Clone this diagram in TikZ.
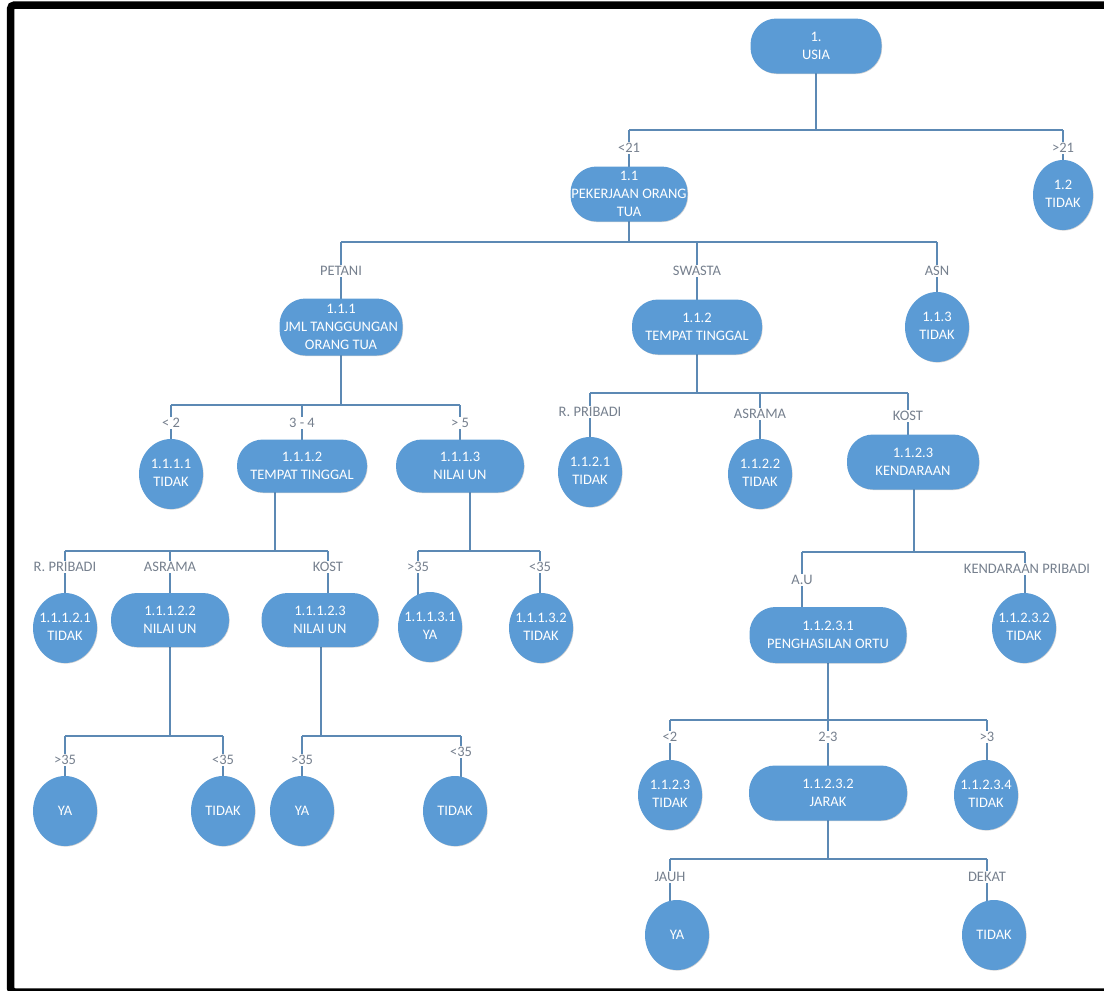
\documentclass[tikz,border=0pt]{standalone}
\usepackage{fontspec}
\setmainfont{Carlito}
\usetikzlibrary{shapes.geometric,shadows}
\pgfdeclarelayer{background}
\pgfsetlayers{background,main}
\definecolor{nodefill}{RGB}{91,155,213}
\definecolor{connc}{RGB}{92,137,180}
\definecolor{lblc}{RGB}{118,128,142}
\newcommand{\twol}[2]{\makebox[0pt]{\begin{tabular}{@{}c@{}}#1\\#2\end{tabular}}}
\tikzset{
  base/.style={fill=nodefill, text=white, inner sep=0pt,
    drop shadow={shadow xshift=0.6pt, shadow yshift=-0.6pt, opacity=0.18, fill=black}},
  stad/.style={base, rectangle, rounded corners=26pt, align=center},
  circ/.style={base, ellipse, minimum width=64pt, minimum height=70pt},
  conn/.style={draw=connc, line width=1.6pt},
  lbl/.style={fill=white, text=lblc, inner sep=1.5pt},
}
\begin{document}
\begin{tikzpicture}[x=1pt, y=-1pt, font=\fontsize{14.5}{18}\selectfont]
\useasboundingbox (0,0) rectangle (1104,991);
\draw[line width=7.5pt, rounded corners=4pt] (10.5,5) rectangle (1130,992);

% ---------- nodes ----------
\node[stad, minimum width=131pt, minimum height=55pt] (n1) at (816,46) {1.\\USIA};
\node[stad, minimum width=117pt, minimum height=55pt] (n11) at (629,194) {1.1\\PEKERJAAN ORANG\\TUA};
\node[circ, minimum width=60pt] (n12) at (1063,195) {\twol{1.2}{TIDAK}};
\node[stad, minimum width=123pt, minimum height=57pt] (n111) at (341,327) {1.1.1\\JML TANGGUNGAN\\ORANG TUA};
\node[stad, minimum width=130pt, minimum height=55pt] (n112) at (697,327) {1.1.2\\TEMPAT TINGGAL};
\node[circ] (n113) at (937,327) {\twol{1.1.3}{TIDAK}};
\node[circ] (n1111) at (171,474) {\twol{1.1.1.1}{TIDAK}};
\node[stad, minimum width=130pt, minimum height=53pt] (n1112) at (302,466) {1.1.1.2\\TEMPAT TINGGAL};
\node[stad, minimum width=128pt, minimum height=53pt] (n1113) at (460,466) {1.1.1.3\\NILAI UN};
\node[circ] (n1121) at (590,472) {\twol{1.1.2.1}{TIDAK}};
\node[circ] (n1122) at (760,474) {\twol{1.1.2.2}{TIDAK}};
\node[stad, minimum width=132pt, minimum height=55pt] (n1123) at (913,462) {1.1.2.3\\KENDARAAN};
\node[circ] (n11121) at (65,628) {\twol{1.1.1.2.1}{TIDAK}};
\node[stad, minimum width=118pt, minimum height=54pt] (n11122) at (170,620) {1.1.1.2.2\\NILAI UN};
\node[stad, minimum width=117pt, minimum height=54pt] (n11123) at (320,620) {1.1.1.2.3\\NILAI UN};
\node[circ] (n11131) at (430,627) {\twol{1.1.1.3.1}{YA}};
\node[circ] (n11132) at (541,628) {\twol{1.1.1.3.2}{TIDAK}};
\node[stad, minimum width=157pt, minimum height=56pt] (n11231) at (828,635) {1.1.2.3.1\\PENGHASILAN ORTU};
\node[circ] (n11232) at (1024,628) {\twol{1.1.2.3.2}{TIDAK}};
\node[circ] (a1) at (65,811) {YA};
\node[circ] (a2) at (223,811) {TIDAK};
\node[circ] (a3) at (302,811) {YA};
\node[circ] (a4) at (455,811) {TIDAK};
\node[circ] (b1) at (670,795) {\twol{1.1.2.3}{TIDAK}};
\node[stad, minimum width=158pt, minimum height=55pt] (b2) at (828,793) {1.1.2.3.2\\JARAK};
\node[circ] (b3) at (986,795) {\twol{1.1.2.3.4}{TIDAK}};
\node[circ] (c1) at (677,935) {YA};
\node[circ] (c2) at (994,935) {TIDAK};

% ---------- junction coordinates ----------
\coordinate (j0) at (816,130);  \coordinate (j0a) at (629,130);  \coordinate (j0b) at (1063,130);
\coordinate (j1) at (629,242);  \coordinate (j1a) at (341,242);  \coordinate (j1b) at (697,242); \coordinate (j1c) at (937,242);
\coordinate (j2) at (341,405);  \coordinate (j2a) at (171,405);  \coordinate (j2b) at (302,405); \coordinate (j2c) at (460,405);
\coordinate (j3) at (697,393);  \coordinate (j3a) at (590,393);  \coordinate (j3b) at (760,393); \coordinate (j3c) at (908,393);
\coordinate (j4) at (275,551);  \coordinate (j4a) at (65,551);   \coordinate (j4b) at (170,551); \coordinate (j4c) at (328,551);
\coordinate (j5) at (470,551);  \coordinate (j5a) at (418,551);  \coordinate (j5b) at (540,551);
\coordinate (j6) at (170,736);  \coordinate (j6a) at (65,736);   \coordinate (j6b) at (223,736);
\coordinate (j7) at (321,736);  \coordinate (j7a) at (302,736);  \coordinate (j7b) at (461,736);
\coordinate (j8) at (914,552);  \coordinate (j8a) at (802,552);  \coordinate (j8b) at (1025,552);
\coordinate (j9) at (828,720);  \coordinate (j9a) at (670,720);  \coordinate (j9b) at (828,720); \coordinate (j9c) at (987,720);
\coordinate (j10) at (828,859); \coordinate (j10a) at (670,859); \coordinate (j10b) at (987,859);

% ---------- labels ----------
\node[lbl] (l0a) at (629,148) {<21};
\node[lbl] (l0b) at (1063,148) {>21};
\node[lbl] (l1a) at (341,271) {PETANI};
\node[lbl] (l1b) at (697,271) {SWASTA};
\node[lbl] (l1c) at (937,271) {ASN};
\node[lbl] (l2a) at (171,423) {< 2};
\node[lbl] (l2b) at (302,423) {3 - 4};
\node[lbl] (l2c) at (460,423) {> 5};
\node[lbl] (l3a) at (590,412) {R. PRIBADI};
\node[lbl] (l3b) at (760,414) {ASRAMA};
\node[lbl] (l3c) at (908,416) {KOST};
\node[lbl] (l4a) at (65,567) {R. PRIBADI};
\node[lbl] (l4b) at (170,567) {ASRAMA};
\node[lbl] (l4c) at (328,567) {KOST};
\node[lbl] (l5a) at (418,567) {>35};
\node[lbl] (l5b) at (540,567) {<35};
\node[lbl] (l6a) at (65,760) {>35};
\node[lbl] (l6b) at (223,760) {<35};
\node[lbl] (l7a) at (302,760) {>35};
\node[lbl] (l7b) at (461,752) {<35};
\node[lbl] (l8a) at (802,580) {A.U};
\node[lbl] (l8b) at (1027,569) {KENDARAAN PRIBADI};
\node[lbl] (l9a) at (670,737) {<2};
\node[lbl] (l9b) at (828,737) {2-3};
\node[lbl] (l9c) at (987,737) {>3};
\node[lbl] (l10a) at (670,877) {JAUH};
\node[lbl] (l10b) at (987,877) {DEKAT};

% ---------- connectors ----------
\begin{pgfonlayer}{background}
% 1. USIA
\draw[conn] (j0 |- n1.center) -- (j0);
\draw[conn] (j0a) -- (j0b);
\draw[conn] (j0a) -- (j0a |- n11.center);
\draw[conn] (j0b) -- (j0b |- n12.center);
% 1.1
\draw[conn] (j1 |- n11.center) -- (j1);
\draw[conn] (j1a) -- (j1c);
\draw[conn] (j1a) -- (j1a |- n111.center);
\draw[conn] (j1b) -- (j1b |- n112.center);
\draw[conn] (j1c) -- (j1c |- n113.center);
% 1.1.1
\draw[conn] (j2 |- n111.center) -- (j2);
\draw[conn] (j2a) -- (j2c);
\draw[conn] (j2a) -- (j2a |- n1111.center);
\draw[conn] (j2b) -- (j2b |- n1112.center);
\draw[conn] (j2c) -- (j2c |- n1113.center);
% 1.1.2
\draw[conn] (j3 |- n112.center) -- (j3);
\draw[conn] (j3a) -- (j3c);
\draw[conn] (j3a) -- (j3a |- n1121.center);
\draw[conn] (j3b) -- (j3b |- n1122.center);
\draw[conn] (j3c) -- (j3c |- n1123.center);
% 1.1.1.2
\draw[conn] (j4 |- n1112.center) -- (j4);
\draw[conn] (j4a) -- (j4c);
\draw[conn] (j4a) -- (j4a |- n11121.center);
\draw[conn] (j4b) -- (j4b |- n11122.center);
\draw[conn] (j4c) -- (j4c |- n11123.center);
% 1.1.1.3
\draw[conn] (j5 |- n1113.center) -- (j5);
\draw[conn] (j5a) -- (j5b);
\draw[conn] (j5a) -- (j5a |- n11131.center);
\draw[conn] (j5b) -- (j5b |- n11132.center);
% 1.1.1.2.2
\draw[conn] (j6 |- n11122.center) -- (j6);
\draw[conn] (j6a) -- (j6b);
\draw[conn] (j6a) -- (j6a |- a1.center);
\draw[conn] (j6b) -- (j6b |- a2.center);
% 1.1.1.2.3
\draw[conn] (j7 |- n11123.center) -- (j7);
\draw[conn] (j7a) -- (j7b);
\draw[conn] (j7a) -- (j7a |- a3.center);
\draw[conn] (j7b) -- (j7b |- a4.center);
% 1.1.2.3
\draw[conn] (j8 |- n1123.center) -- (j8);
\draw[conn] (j8a) -- (j8b);
\draw[conn] (j8a) -- (j8a |- n11231.center);
\draw[conn] (j8b) -- (j8b |- n11232.center);
% 1.1.2.3.1
\draw[conn] (j9 |- n11231.center) -- (j9);
\draw[conn] (j9a) -- (j9c);
\draw[conn] (j9a) -- (j9a |- b1.center);
\draw[conn] (j9b) -- (j9b |- b2.center);
\draw[conn] (j9c) -- (j9c |- b3.center);
% 1.1.2.3.2
\draw[conn] (j10 |- b2.center) -- (j10);
\draw[conn] (j10a) -- (j10b);
\draw[conn] (j10a) -- (j10a |- c1.center);
\draw[conn] (j10b) -- (j10b |- c2.center);
\end{pgfonlayer}
\end{tikzpicture}
\end{document}
